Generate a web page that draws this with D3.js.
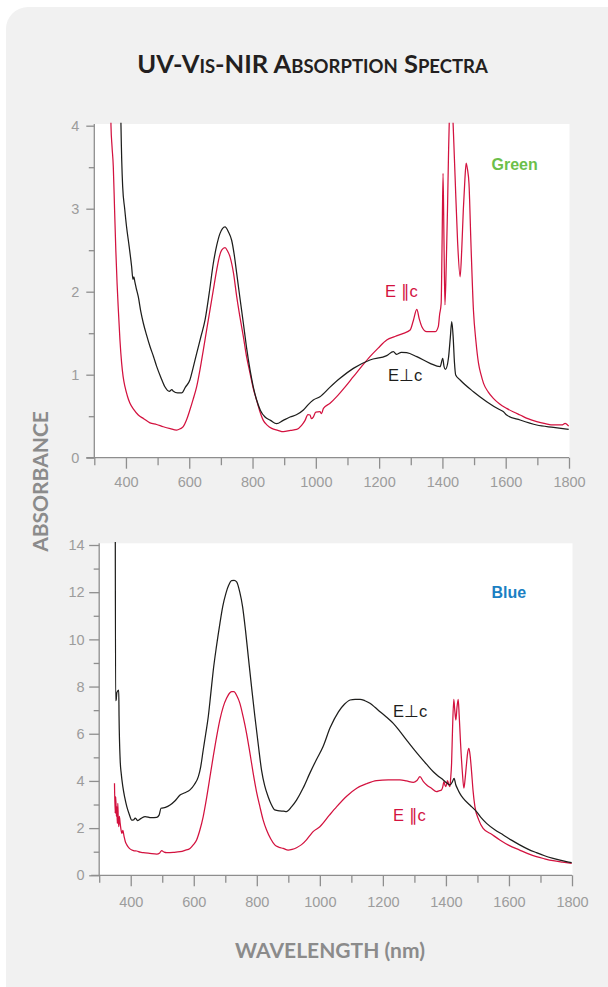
<!DOCTYPE html>
<html><head><meta charset="utf-8">
<script src="https://cdn.jsdelivr.net/npm/d3@7"></script>
<style>body{margin:0;background:#fff}</style>
</head><body><svg id="c" width="608" height="987"></svg>
<script>
// ---------- data ----------
const xMajorTicks = [400,600,800,1000,1200,1400,1600,1800];
const xMinorTicks = [300,500,700,900,1100,1300,1500,1700];
const greenYMajor = [0,1,2,3,4];
const greenYMinor = [0.5,1.5,2.5,3.5];
const blueYMajor = [0,2,4,6,8,10,12,14];
const blueYMinor = [1,3,5,7,9,11,13];
// title pieces: [text, isSmallCap]
const titleParts = [["UV-V",false],["IS",true],["-NIR A",false],["BSORPTION",true],[" S",false],["PECTRA",true]];

// Green sample, E⊥c  [wavelength nm, absorbance]
const greenPerp = [[382,4.6],[384.3,4.0],[389.6,3.27],[396,3.0],[402,2.78],[410,2.55],[418,2.30],[422,2.15],[425,2.18],[428,2.12],[432,2.05],[439,1.94],[447,1.76],[455,1.62],[465,1.48],[476,1.34],[487,1.22],[497,1.10],[510,0.97],[523,0.855],[537,0.80],[545,0.82],[550,0.80],[563,0.78],[576,0.78],[588,0.85],[602,0.936],[612,1.08],[623.5,1.257],[637,1.46],[650,1.66],[663,1.98],[676,2.34],[687,2.56],[697,2.70],[705,2.76],[713,2.78],[724,2.72],[734,2.62],[742,2.45],[750,2.22],[760,1.93],[771,1.62],[781,1.33],[792,1.06],[802,0.86],[813,0.695],[825,0.57],[839.5,0.49],[857,0.45],[876,0.41],[897,0.45],[918.5,0.49],[940,0.52],[960.7,0.574],[976,0.64],[992,0.695],[1013,0.735],[1045,0.85],[1076.5,0.956],[1118.6,1.076],[1171,1.177],[1224,1.23],[1245,1.277],[1255.6,1.245],[1270,1.27],[1287,1.265],[1319,1.217],[1361,1.137],[1392.6,1.096],[1401,1.197],[1405,1.10],[1409.5,1.064],[1419,1.197],[1425,1.45],[1429.5,1.64],[1434,1.45],[1438,1.15],[1442,0.996],[1456,0.936],[1498,0.795],[1540,0.675],[1580,0.58],[1593,0.554],[1603,0.514],[1645.5,0.454],[1698,0.394],[1751,0.365],[1799,0.341]];
// Green sample, E∥c
const greenPar = [[350,4.6],[352.7,4.0],[356,3.75],[360,3.51],[364,3.0],[368,2.5],[372,2.1],[376,1.78],[381,1.42],[386.4,1.14],[391,0.98],[396.9,0.855],[404,0.75],[412.7,0.655],[425,0.58],[439,0.514],[456,0.47],[476,0.42],[497,0.40],[518,0.373],[540,0.35],[560,0.333],[572,0.35],[581,0.373],[591,0.45],[602,0.574],[612,0.70],[623.5,0.855],[634,1.06],[644.6,1.30],[655,1.54],[665.6,1.78],[676,2.02],[686.7,2.26],[695,2.42],[702.5,2.50],[713,2.53],[721,2.49],[728.9,2.42],[740,2.22],[750,1.94],[760,1.70],[771,1.46],[781,1.22],[792,1.02],[802,0.84],[813,0.69],[823,0.56],[834,0.45],[847,0.39],[860.6,0.353],[880,0.33],[897.5,0.313],[920,0.33],[939.6,0.341],[955,0.39],[966,0.45],[975,0.52],[981.8,0.514],[986,0.47],[992,0.49],[1000,0.55],[1013,0.554],[1018,0.53],[1024,0.594],[1045,0.655],[1066,0.735],[1092,0.85],[1118.6,0.976],[1145,1.10],[1171,1.217],[1197,1.32],[1224,1.418],[1250,1.46],[1277,1.498],[1298,1.538],[1308,1.65],[1319,1.787],[1327,1.67],[1335,1.578],[1350.5,1.518],[1377,1.518],[1387,1.58],[1391,1.719],[1396,1.859],[1399,2.6],[1402,3.426],[1405,2.6],[1408,1.84],[1412,2.3],[1416,2.98],[1419,3.6],[1422,4.1],[1428,4.4],[1433,4.1],[1436,3.8],[1440,3.39],[1448,2.6],[1456,2.18],[1461,2.5],[1466,2.98],[1471,3.35],[1475,3.55],[1479,3.48],[1484,3.30],[1490,2.6],[1498,1.78],[1506,1.40],[1514,1.14],[1522,1.0],[1530,0.896],[1545,0.79],[1561,0.715],[1580,0.65],[1603,0.594],[1625,0.55],[1645.5,0.514],[1670,0.47],[1698,0.434],[1725,0.41],[1751,0.394],[1777,0.394],[1788,0.414],[1799,0.381]];
// Blue sample, E⊥c
const bluePerp = [[351,15],[352,7.4],[354,7.45],[356,7.75],[362,7.85],[363,6.72],[366.5,4.89],[370,4.3],[375,3.76],[381,3.3],[387.6,2.91],[395,2.6],[403.4,2.34],[409,2.35],[414,2.42],[418,2.38],[421,2.32],[432,2.40],[445.6,2.49],[465,2.44],[482.6,2.46],[490,2.55],[496,2.84],[510,2.88],[524.8,2.98],[540,3.15],[556.5,3.40],[572,3.50],[588,3.62],[602,3.85],[614.5,4.18],[622,4.6],[630,5.31],[638,6.0],[646,6.72],[654,7.7],[662,8.70],[672,9.7],[683,10.68],[692,11.4],[702,11.95],[711,12.3],[720,12.49],[728,12.5],[736,12.44],[746,12.0],[755,11.38],[764,10.4],[773,9.27],[784,7.9],[794,6.72],[805,5.5],[815,4.46],[825,3.8],[836,3.33],[846,3.0],[857,2.77],[873,2.73],[885,2.72],[894,2.70],[910,2.9],[926,3.19],[947,3.7],[968,4.32],[989,4.9],[1010,5.45],[1032.5,6.25],[1059,6.93],[1078,7.25],[1096,7.43],[1112,7.46],[1127.6,7.46],[1143,7.40],[1159,7.29],[1175,7.12],[1191,6.93],[1212,6.70],[1233,6.44],[1254,6.10],[1275.4,5.73],[1296,5.38],[1317.6,5.03],[1339,4.70],[1360,4.39],[1376,4.20],[1391.6,4.04],[1402,3.92],[1412.7,3.83],[1420,3.95],[1426,4.11],[1431,3.85],[1436,3.69],[1445,3.45],[1455,3.26],[1476,2.98],[1497,2.70],[1513,2.42],[1529,2.20],[1555,1.93],[1582,1.71],[1608,1.49],[1634,1.29],[1660,1.11],[1687,0.96],[1713,0.83],[1740,0.72],[1762,0.64],[1782,0.58],[1799,0.54]];
// Blue sample, E∥c
const bluePar = [[348.5,3.9],[350.7,2.63],[352.5,3.33],[354.5,2.5],[356,2.9],[357.5,2.2],[359,3.05],[360.5,2.4],[362,2.06],[364,2.5],[366.5,2.2],[369,1.95],[372,1.78],[375,1.9],[379,1.64],[383,1.42],[387.6,1.29],[395,1.15],[403.4,1.07],[411,1.04],[419,1.03],[430,0.98],[440,0.96],[460,0.93],[482.6,0.90],[492,0.95],[498,1.05],[506,0.98],[514,0.96],[535,0.97],[556.5,1.00],[572,1.06],[588,1.14],[599,1.30],[609,1.50],[619,1.90],[630,2.49],[641,3.3],[651.5,4.18],[662,5.05],[672.6,5.88],[683,6.6],[693.7,7.15],[704,7.5],[714.8,7.74],[721,7.78],[727.4,7.78],[737,7.6],[746.4,7.29],[757,6.7],[767.5,6.02],[778,5.2],[788.6,4.32],[799,3.55],[809.8,2.91],[820,2.35],[831,1.92],[844,1.55],[857,1.29],[870,1.19],[883.6,1.14],[899.5,1.07],[912,1.10],[926,1.17],[942,1.30],[957.5,1.50],[968,1.68],[978.6,1.85],[1000,2.06],[1031,2.56],[1053.6,2.91],[1085,3.35],[1117,3.69],[1148,3.88],[1180,4.01],[1217,4.04],[1254,4.04],[1275,4.0],[1296.5,3.94],[1308,4.02],[1317.6,4.18],[1328,3.98],[1339,3.83],[1355,3.68],[1370,3.55],[1378,3.58],[1386,3.62],[1390,3.75],[1393.7,3.97],[1397,3.82],[1400,3.76],[1405,4.01],[1409,3.85],[1412.7,3.76],[1415,4.1],[1418,4.75],[1421,6.2],[1425,7.46],[1428,7.0],[1431.7,6.58],[1435,7.1],[1439,7.46],[1442,6.8],[1446.5,5.59],[1452,4.4],[1457,3.69],[1461,4.1],[1465.5,4.75],[1469,5.2],[1473,5.38],[1477,5.05],[1481,4.46],[1486,3.6],[1492,2.91],[1504,2.35],[1518,1.99],[1545,1.74],[1571,1.50],[1600,1.27],[1634,1.07],[1660,0.92],[1687,0.79],[1713,0.70],[1740,0.62],[1770,0.56],[1799,0.51]];

// ---------- drawing ----------
const svg = d3.select("#c");
const AXIS = "#8e8e8e", TICKTXT = "#9c9c9c", BLACK = "#1e1e1c", RED = "#d3123f";
const TFONT = "'Liberation Sans', Arial, Helvetica, sans-serif";
const HFONT = "Lato, 'Open Sans', sans-serif";

svg.append("rect").attr("x",6).attr("y",7).attr("width",640).attr("height",1020)
  .attr("rx",22).attr("fill","#f1f1f1");

const title = svg.append("text").attr("x",312.5).attr("y",72.7).attr("text-anchor","middle")
  .attr("font-family",HFONT).attr("font-weight",700).attr("fill","#231f20");
titleParts.forEach(([t,sc])=>{
  title.append("tspan").attr("font-size",sc?18.5:25.5).text(t);
});

function panel(cfg){
  const x = d3.scaleLinear().domain([300,1800]).range([cfg.left,cfg.right]);
  const y = d3.scaleLinear().domain([0,cfg.ymax]).range([cfg.bottom,cfg.top]);
  const g = svg.append("g");
  g.append("rect").attr("x",cfg.left).attr("y",cfg.top-1.7)
    .attr("width",cfg.right-cfg.left+0.5).attr("height",cfg.bottom-cfg.top+1.7).attr("fill","#fff");
  const cid = "clip"+cfg.id;
  svg.append("clipPath").attr("id",cid).append("rect")
    .attr("x",cfg.left).attr("y",cfg.top-3).attr("width",cfg.right-cfg.left+3).attr("height",cfg.bottom-cfg.top+3);

  const line = d3.line().x(d=>x(d[0])).y(d=>y(d[1])).curve(d3.curveMonotoneX);
  const lg = g.append("g").attr("clip-path",`url(#${cid})`);
  cfg.series.forEach(s=>{
    lg.append("path").attr("d",line(s.data)).attr("fill","none")
      .attr("stroke",s.color).attr("stroke-width",1.25).attr("stroke-linejoin","round");
  });

  // axes
  const style = sel => { sel.attr("font-size",null).attr("font-family",null);
    sel.selectAll("path,line").attr("stroke",AXIS).attr("stroke-width",1.3);
    sel.selectAll("text").attr("fill",TICKTXT).style("font-family",TFONT).style("font-size","14.5px"); };
  const xg = g.append("g").attr("transform",`translate(0,${cfg.bottom})`);
  xg.call(d3.axisBottom(x).tickValues(xMajorTicks).tickSize(11).tickSizeOuter(0).tickFormat(d3.format("d")));
  xg.select(".domain").attr("d",`M${cfg.left-8},0H${x(1800)}`);
  xg.selectAll("text").attr("y",cfg.xlab).attr("dy","0.71em");
  const xm = g.append("g").attr("transform",`translate(0,${cfg.bottom})`);
  xm.call(d3.axisBottom(x).tickValues(xMinorTicks).tickSize(7.5).tickFormat(""));
  xm.select(".domain").remove();
  [xg,xm].forEach(style);

  const yg = g.append("g").attr("transform",`translate(${cfg.left},0)`);
  yg.call(d3.axisLeft(y).tickValues(cfg.yMajor).tickSize(cfg.ytick).tickSizeOuter(0).tickFormat(d3.format("d")));
  yg.select(".domain").attr("d",`M0,${cfg.top-1.7}V${cfg.bottom}`);
  yg.selectAll("text").attr("x",-cfg.ylabGap);
  const ym = g.append("g").attr("transform",`translate(${cfg.left},0)`);
  ym.call(d3.axisLeft(y).tickValues(cfg.yMinor).tickSize(5.5).tickFormat(""));
  ym.select(".domain").remove();
  [yg,ym].forEach(style);

  cfg.labels.forEach(l=>{
    g.append("text").attr("x",l.x).attr("y",l.y).attr("fill",l.color)
      .attr("font-family",TFONT).attr("font-size",l.size||16.5).attr("font-weight",l.bold?700:400)
      .text(l.text);
  });
}

panel({id:1,left:94.3,right:569,top:125.7,bottom:457.7,ymax:4,yMajor:greenYMajor,yMinor:greenYMinor,
  ytick:8,ylabGap:15,xlab:19.5,
  series:[{data:greenPar,color:RED},{data:greenPerp,color:BLACK}],
  labels:[{x:491.5,y:170,text:"Green",color:"#6cbf4a",bold:true,size:16},
          {x:385,y:297,text:"E \u2225c",color:RED},
          {x:388,y:381,text:"E\u22a5c",color:BLACK}]});

panel({id:2,left:99.2,right:572,top:545,bottom:875.3,ymax:14,yMajor:blueYMajor,yMinor:blueYMinor,
  ytick:10,ylabGap:14.5,xlab:21,
  series:[{data:bluePar,color:RED},{data:bluePerp,color:BLACK}],
  labels:[{x:491.5,y:598,text:"Blue",color:"#1b7fc3",bold:true,size:16},
          {x:393,y:717,text:"E\u22a5c",color:BLACK},
          {x:393,y:821,text:"E \u2225c",color:RED}]});

svg.append("text").attr("transform","translate(48,481.5) rotate(-90)").attr("text-anchor","middle")
  .attr("font-family",HFONT).attr("font-weight",700).attr("font-size",21).attr("fill","#8b8b8b")
  .text("ABSORBANCE");
svg.append("text").attr("x",330).attr("y",958).attr("text-anchor","middle")
  .attr("font-family",HFONT).attr("font-weight",700).attr("font-size",21).attr("fill","#8b8b8b")
  .text("WAVELENGTH (nm)");
</script></body></html>
